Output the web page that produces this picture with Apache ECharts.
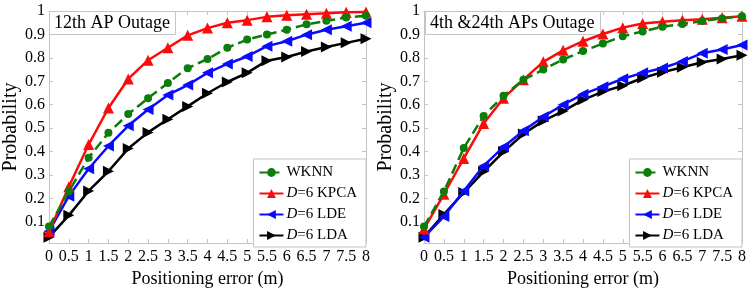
<!DOCTYPE html>
<html>
<head>
<meta charset="utf-8">
<script src="https://cdn.jsdelivr.net/npm/echarts@6/dist/echarts.min.js"></script>
<style>
  html, body { margin: 0; padding: 0; background: #fff; }
  #chart { width: 754px; height: 293px; }
</style>
</head>
<body>
<div id="chart"></div>
<script>
// positioning error (m)
const errors = [0, 0.5, 1, 1.5, 2, 2.5, 3, 3.5, 4, 4.5, 5, 5.5, 6, 6.5, 7, 7.5, 8];
const yTicks = [0.1, 0.2, 0.3, 0.4, 0.5, 0.6, 0.7, 0.8, 0.9, 1];

const seriesNames = ['WKNN', 'D=6 KPCA', 'D=6 LDE', 'D=6 LDA'];
const panelTitles = ['12th AP Outage', '4th &24th APs Outage'];

// left panel: 12th AP outage
const leftWknn = [0.08, 0.23, 0.374, 0.48, 0.56, 0.628, 0.693, 0.756, 0.795, 0.843, 0.878, 0.90, 0.92, 0.943, 0.958, 0.972, 0.98];
const leftKpca = [0.058, 0.25, 0.43, 0.586, 0.71, 0.79, 0.843, 0.896, 0.927, 0.95, 0.961, 0.975, 0.982, 0.986, 0.99, 0.995, 0.996];
const leftLde  = [0.06, 0.21, 0.327, 0.424, 0.51, 0.58, 0.642, 0.684, 0.736, 0.774, 0.806, 0.85, 0.871, 0.899, 0.92, 0.935, 0.95];
const leftLda  = [0.035, 0.128, 0.232, 0.316, 0.413, 0.482, 0.538, 0.593, 0.649, 0.697, 0.736, 0.788, 0.804, 0.827, 0.846, 0.864, 0.882];

// right panel: 4th & 24th APs outage
const rightWknn = [0.08, 0.23, 0.415, 0.552, 0.638, 0.707, 0.75, 0.793, 0.829, 0.861, 0.892, 0.913, 0.933, 0.945, 0.957, 0.968, 0.978];
const rightKpca = [0.07, 0.218, 0.371, 0.52, 0.628, 0.707, 0.783, 0.832, 0.871, 0.902, 0.929, 0.947, 0.954, 0.961, 0.965, 0.971, 0.978];
const rightLde  = [0.035, 0.123, 0.232, 0.339, 0.42, 0.489, 0.549, 0.60, 0.645, 0.677, 0.711, 0.736, 0.757, 0.785, 0.82, 0.836, 0.855];
const rightLda  = [0.035, 0.132, 0.225, 0.315, 0.399, 0.475, 0.531, 0.573, 0.621, 0.656, 0.681, 0.714, 0.739, 0.76, 0.781, 0.795, 0.811];

const font = "'Liberation Serif', 'Times New Roman', serif";
const boxColor = '#c4c4c4';

const styles = [
    { color: '#0b7d0b', symbol: 'circle', size: 8, rotate: 0, dash: 'dashed' },
    { color: '#ff0a0a', symbol: 'triangle', size: 11, rotate: 0, dash: 'solid' },
    { color: '#0a0aff', symbol: 'triangle', size: 11, rotate: 90, dash: 'solid' },
    { color: '#000000', symbol: 'triangle', size: 11, rotate: -90, dash: 'solid' }
];

const panels = [
    { left: 48, right: 388, data: [leftWknn, leftKpca, leftLde, leftLda] },
    { left: 424, right: 12, data: [rightWknn, rightKpca, rightLde, rightLda] }
];

let grid = [], xAxis = [], yAxis = [], series = [], legend = [], title = [];

panels.forEach((p, k) => {
    grid.push({ left: p.left, right: p.right, top: 11, bottom: 45 });

    // bottom axis with labels, top axis only for the box ticks
    [false, true].forEach(isTop => {
        xAxis.push({
            type: 'value', gridIndex: k, min: 0, max: 8, interval: 0.5,
            position: isTop ? 'top' : 'bottom',
            name: isTop ? '' : 'Positioning error (m)',
            nameLocation: 'middle', nameGap: 27,
            nameTextStyle: { fontFamily: font, fontSize: 18, color: '#000' },
            axisLine: { show: true, onZero: false, lineStyle: { color: boxColor, width: 1 } },
            axisTick: { show: true, inside: true, length: 4, lineStyle: { color: boxColor } },
            axisLabel: { show: !isTop, fontFamily: font, fontSize: 16, color: '#000', margin: 6 },
            splitLine: { show: false }
        });
        yAxis.push({
            type: 'value', gridIndex: k, min: 0.01, max: 1,
            position: isTop ? 'right' : 'left',
            name: isTop ? '' : 'Probability',
            nameLocation: 'middle', nameGap: 28,
            nameTextStyle: { fontFamily: font, fontSize: 20, color: '#000' },
            axisLine: { show: true, onZero: false, lineStyle: { color: boxColor, width: 1 } },
            axisTick: { show: true, inside: true, length: 4, customValues: yTicks, lineStyle: { color: boxColor } },
            axisLabel: { show: !isTop, customValues: yTicks, fontFamily: font, fontSize: 16, color: '#000', margin: 4 },
            splitLine: { show: false }
        });
    });

    p.data.forEach((vals, i) => {
        const s = styles[i];
        series.push({
            name: seriesNames[i], type: 'line',
            xAxisIndex: k * 2, yAxisIndex: k * 2,
            data: errors.map((e, j) => [e, vals[j]]),
            symbol: s.symbol, symbolSize: s.size, symbolRotate: s.rotate,
            itemStyle: { color: s.color },
            lineStyle: { color: s.color, width: 2.5, type: s.dash },
            z: 10 - i
        });
    });

    legend.push({
        data: seriesNames, orient: 'vertical',
        right: p.right, bottom: 46,
        backgroundColor: '#fff', borderColor: boxColor, borderWidth: 1,
        padding: [6, 9, 4, 5], itemGap: 6, itemWidth: 24, itemHeight: 11,
        textStyle: {
            fontFamily: font, fontSize: 15, color: '#000', lineHeight: 15,
            padding: [0, 0, 0, -2],
            rich: { i: { fontFamily: font, fontSize: 15, fontStyle: 'italic', color: '#000' } }
        },
        formatter: name => name.startsWith('D=') ? '{i|D}' + name.slice(1) : name
    });

    title.push({
        text: panelTitles[k], left: p.left + 1, top: 11,
        backgroundColor: '#fff', borderColor: boxColor, borderWidth: 1,
        padding: [3, 6, 3, 5],
        textStyle: { fontFamily: font, fontSize: 18, fontWeight: 'normal', color: '#000' }
    });
});

let chart = echarts.init(document.getElementById('chart'));
chart.setOption({ animation: false, title, grid, xAxis, yAxis, legend, series });
</script>
</body>
</html>
